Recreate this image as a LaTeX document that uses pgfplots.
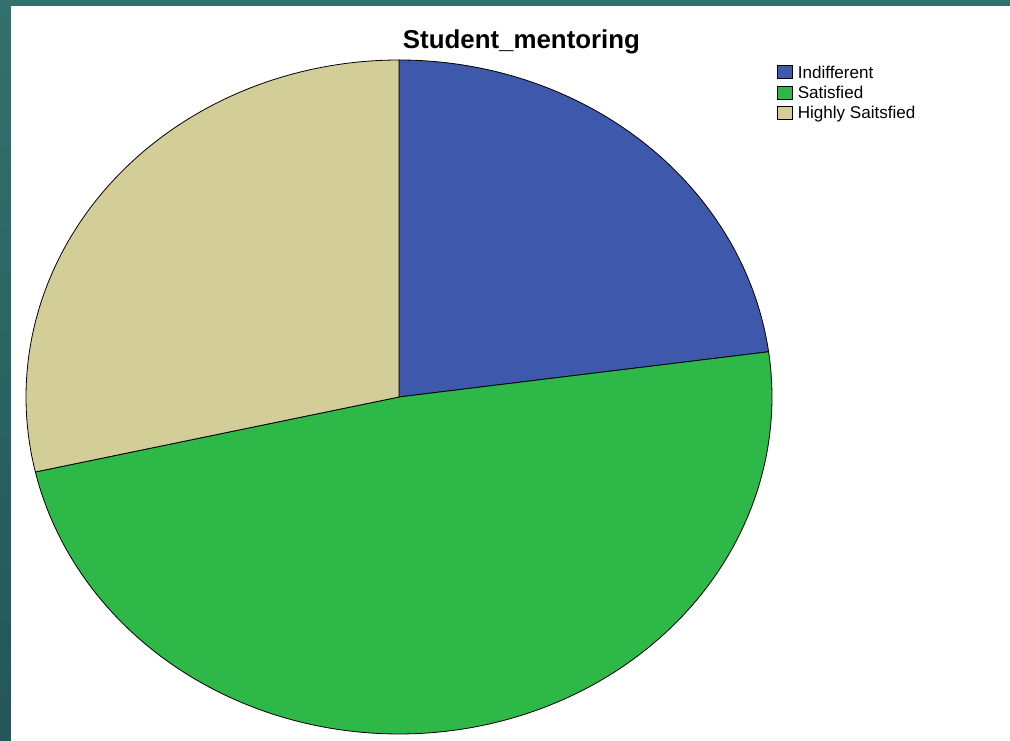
\documentclass[border=0pt]{standalone}
\usepackage{pgfplots}
\pgfplotsset{compat=1.18}
\usepackage{fontspec}
\setmainfont{Liberation Sans}
\definecolor{sIndiff}{HTML}{3E58AC}
\definecolor{sSatis}{HTML}{2EB848}
\definecolor{sHigh}{HTML}{D3CE97}
\definecolor{tealTop}{HTML}{33716C}
\definecolor{tealBot}{HTML}{24555A}
% counts per category
\def\nInd{16}
\def\nSat{34}
\def\nHigh{20}
\begin{document}
\begin{tikzpicture}
\useasboundingbox (0pt,0pt) rectangle (757.5pt,555.75pt);
\shade[top color=tealTop,bottom color=tealBot] (0pt,0pt) rectangle (757.5pt,555.75pt);
\fill[white] (8.25pt,0pt) rectangle (757.5pt,551.25pt);
\pgfmathsetmacro{\tot}{\nInd+\nSat+\nHigh}
\pgfmathsetmacro{\aA}{90-360*\nInd/\tot}
\pgfmathsetmacro{\aB}{\aA-360*\nSat/\tot}
\pgfmathsetmacro{\aC}{\aB-360*\nHigh/\tot}
\begin{axis}[
  at={(299.25pt,258pt)}, anchor=center,
  scale only axis, width=559.5pt, height=505.5pt,
  xmin=-1, xmax=1, ymin=-1, ymax=1,
  hide axis, clip=false,
  area legend,
  legend cell align=left,
  legend image code/.code={\draw[#1,draw=black,line width=0.5pt] (0pt,-4.9pt) rectangle (11.2pt,4.9pt);},
  legend style={at={(1.0067,0.992)}, anchor=north west, draw=none, fill=none,
    inner sep=0pt, outer sep=0pt, row sep=4.9pt,
    font=\fontsize{12.8pt}{14pt}\selectfont,
    nodes={inner sep=0pt, outer sep=0pt, text depth=0pt}},
]
\addplot[fill=sIndiff, draw=black, line width=0.6pt, domain=\aA:90, samples=120, variable=\t]
  ({cos(t)},{sin(t)}) -- (axis cs:0,0) -- cycle;
\addlegendentry{\hspace{3.9pt}Indifferent}
\addplot[fill=sSatis, draw=black, line width=0.6pt, domain=\aB:\aA, samples=200, variable=\t]
  ({cos(t)},{sin(t)}) -- (axis cs:0,0) -- cycle;
\addlegendentry{\hspace{3.9pt}Satisfied}
\addplot[fill=sHigh, draw=black, line width=0.6pt, domain=\aC:\aB, samples=140, variable=\t]
  ({cos(t)},{sin(t)}) -- (axis cs:0,0) -- cycle;
\addlegendentry{\hspace{3.9pt}Highly Saitsfied}
\end{axis}
\node[anchor=base, inner sep=0pt, font=\bfseries\fontsize{19.4pt}{22pt}\selectfont] at (391.1pt,519pt) {Student\_mentoring};
\end{tikzpicture}
\end{document}
